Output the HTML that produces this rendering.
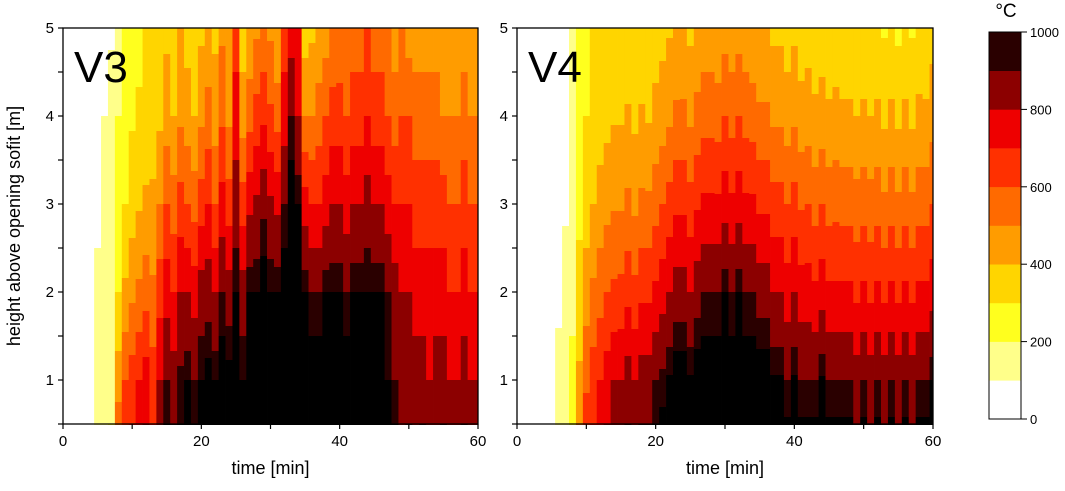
<!DOCTYPE html>
<html><head><meta charset="utf-8">
<style>
body{margin:0;background:#fff;}
svg{display:block;font-family:"Liberation Sans",Arial,sans-serif;}
</style></head>
<body>
<svg id="chart" width="1065" height="491" viewBox="0 0 1065 491"></svg>
<script>
const heights = [0.5, 1, 2, 3, 4, 5];
const xTicks = [0, 20, 40, 60];
const yTicks = [1, 2, 3, 4, 5];
const cbTicks = [0, 200, 400, 600, 800, 1000];
const levels = [0,100,200,300,400,500,600,700,800,900,950];
const levelColors = ['#ffffff','#ffff8a','#ffff1e','#ffd500','#ff9c00','#ff6a00','#ff3000','#ee0000','#8c0000','#2a0000','#000000'];
const cbColors = ['#ffffff','#ffff8a','#ffff1e','#ffd500','#ff9c00','#ff6a00','#ff3000','#ee0000','#8c0000','#2a0000'];
const v3 = [
[20,20,20,20,20,20],[20,20,20,20,20,20],[20,20,20,20,20,20],[20,20,20,20,20,20],[20,20,20,20,20,20],
[150,150,120,80,50,30],[160,160,150,120,100,60],[200,180,170,150,130,90],[550,450,300,250,200,150],[650,600,420,300,260,230],
[700,650,480,350,290,260],[750,700,520,390,310,280],[800,750,560,420,330,300],[700,650,520,420,350,320],[850,800,660,500,380,340],
[950,900,760,600,450,380],[900,850,700,550,400,340],[950,920,800,640,480,400],[1000,950,800,600,450,360],[950,900,760,560,400,340],
[1000,950,850,650,480,380],[1000,980,860,700,540,420],[1000,950,800,600,450,380],[1000,1000,900,740,580,480],[1000,980,850,650,480,400],
[1000,1000,950,850,750,650],[1000,950,850,650,450,350],[1000,1000,950,780,560,420],[1000,1000,950,820,640,480],[1000,1000,1000,880,680,520],
[1000,1000,950,820,620,480],[1000,1000,950,780,560,400],[1000,1000,1000,900,750,650],[1000,1000,1000,1000,900,750],[1000,1000,1000,950,800,700],
[1000,1000,950,750,500,350],[1000,1000,900,700,500,380],[1000,1000,900,700,550,420],[1000,1000,950,750,600,450],[1000,1000,950,800,650,500],
[1000,1000,950,800,650,520],[1000,1000,900,750,600,500],[1000,1000,950,800,650,550],[1000,1000,950,800,650,550],[1000,1000,950,850,700,600],
[1000,1000,950,800,650,550],[1000,1000,950,800,650,550],[1000,950,900,750,600,500],[950,900,850,700,550,450],[850,850,800,700,600,500],
[900,850,800,700,600,450],[850,850,750,650,550,450],[900,850,750,650,550,450],[850,800,750,650,550,450],[850,850,750,650,550,450],
[900,850,750,650,500,420],[850,800,700,600,500,400],[850,800,700,600,500,420],[900,850,750,650,550,450],[850,800,700,600,500,420],
[850,800,700,600,500,400]];
const v4 = [
[20,20,20,20,20,20],[20,20,20,20,20,20],[20,20,20,20,20,20],[20,20,20,20,20,20],[20,20,20,20,20,20],[20,20,20,20,20,20],
[150,130,80,50,30,20],[180,170,130,90,60,40],[250,220,180,150,120,100],[500,420,330,280,250,220],
[650,580,450,350,300,270],[700,650,520,400,330,300],[750,700,560,440,350,310],[800,750,600,470,370,320],[850,800,620,490,390,330],
[850,800,630,490,390,320],[900,850,670,520,410,340],[850,800,630,480,380,320],[900,850,680,520,410,340],[900,850,680,520,390,320],
[950,900,720,560,430,350],[970,920,760,600,450,370],[1000,960,800,640,480,390],[1000,1000,850,680,520,410],[1000,1000,850,680,520,420],
[1000,960,800,640,480,380],[1000,1000,860,690,530,420],[1000,1000,900,720,560,440],[1000,1000,900,720,560,440],[1000,1000,900,720,550,420],
[1000,1000,950,760,600,460],[1000,1000,900,720,560,440],[1000,1000,950,760,600,460],[1000,1000,900,720,560,440],[1000,1000,900,720,550,420],
[1000,1000,860,680,520,400],[1000,1000,860,680,520,400],[1000,960,800,640,480,380],[1000,960,800,640,480,380],[960,900,750,600,450,350],
[1000,960,800,640,480,380],[960,900,750,590,440,340],[960,900,750,600,450,360],[960,900,720,560,420,340],[1000,960,760,600,440,350],
[960,900,720,560,420,320],[960,900,720,570,430,340],[960,900,720,560,420,320],[960,900,720,560,420,320],[900,850,680,540,400,300],
[960,900,720,560,420,320],[900,850,680,540,400,300],[960,900,720,560,420,320],[900,850,680,520,380,290],[960,900,720,560,420,320],
[900,850,680,520,380,280],[960,900,720,560,420,320],[900,850,680,520,380,290],[960,900,720,560,420,340],[960,900,720,560,420,320],
[1000,950,760,600,460,360]];

const NS='http://www.w3.org/2000/svg';
const svg=document.getElementById('chart');
function mk(tag,attrs,parent){const e=document.createElementNS(NS,tag);for(const k in attrs)e.setAttribute(k,attrs[k]);(parent||svg).appendChild(e);return e;}
function colorFor(v){let i=0;for(let k=0;k<levels.length;k++){if(v>=levels[k])i=k;}return levelColors[i];}
function interpH(col,h){for(let k=0;k<heights.length-1;k++){if(h<=heights[k+1]){const f=(h-heights[k])/(heights[k+1]-heights[k]);return col[k]+f*(col[k+1]-col[k]);}}return col[col.length-1];}

const Y0=424,Y1=28;
function yScale(h){return Y0-(h-0.5)/(4.5)*(Y0-Y1);}

function drawPanel(x0,x1,data,label){
  const g=mk('g',{});
  
  
  const xs=t=>x0+t/60*(x1-x0);
  const hm=mk('g',{},g);
  
  
  data.forEach((col,t)=>{
    const a=Math.max(x0,xs(t-0.5)),b=Math.min(x1,xs(t+0.5));
    let runStart=Y0,runColor=null;
    for(let y=Y0;y>=Y1-1;y-=1){
      const h=y<=Y1?5:0.5+(Y0-y)/(Y0-Y1)*4.5;
      const c=y<Y1?null:colorFor(interpH(col,h));
      if(c!==runColor){
        if(runColor){const r=mk('rect',{x:a,y:y+1,width:b-a+0.4,height:runStart-(y+1),fill:runColor},hm);
          
          }
        runColor=c;runStart=y+1;
      }
    }
  });
  mk('rect',{x:x0,y:Y1,width:x1-x0,height:Y0-Y1,fill:'none',stroke:'#000','stroke-width':1.3},g);
  [0,10,20,30,40,50,60].forEach(t=>{mk('line',{x1:xs(t),x2:xs(t),y1:Y0,y2:Y0+5,stroke:'#000','stroke-width':1.2},g);});
  xTicks.forEach(t=>{const tx=mk('text',{x:xs(t),y:Y0+22,'text-anchor':'middle','font-size':15},g);tx.textContent=t;
    });
  for(let h=0.5;h<=5;h+=0.5){mk('line',{x1:x0-5,x2:x0,y1:yScale(h),y2:yScale(h),stroke:'#000','stroke-width':1.2},g);}
  yTicks.forEach(h=>{const tx=mk('text',{x:x0-9,y:yScale(h)+5,'text-anchor':'end','font-size':15},g);tx.textContent=h;
    });
  const xt=mk('text',{x:(x0+x1)/2,y:474,'text-anchor':'middle','font-size':18},g);xt.textContent='time [min]';
  
  const pl=mk('text',{x:x0+11,y:82,'font-size':44},g);pl.textContent=label;
  
}
drawPanel(63,478,v3,'V3');
drawPanel(517,933,v4,'V4');
const yt=mk('text',{x:0,y:0,'text-anchor':'middle','font-size':18,transform:'translate(20,226) rotate(-90)'});
yt.textContent='height above opening sofit [m]';


const CB={x:989,w:32,top:32,bot:419};
const cbs=v=>CB.bot-v/1000*(CB.bot-CB.top);
const cb=mk('g',{});

cbColors.forEach((c,i)=>{const r=mk('rect',{x:CB.x,y:cbs((i+1)*100),width:CB.w,height:cbs(i*100)-cbs((i+1)*100)+0.3,fill:c},cb);
  });
mk('rect',{x:CB.x,y:CB.top,width:CB.w,height:CB.bot-CB.top,fill:'none',stroke:'#000','stroke-width':1},cb);
cbTicks.forEach(v=>{mk('line',{x1:CB.x+CB.w,x2:CB.x+CB.w+6,y1:cbs(v),y2:cbs(v),stroke:'#000','stroke-width':1},cb);
  const tx=mk('text',{x:CB.x+CB.w+9,y:cbs(v)+5,'font-size':13},cb);tx.textContent=v;
  });
const unit=mk('text',{x:1006,y:17,'text-anchor':'middle','font-size':19},cb);unit.textContent='°C';

</script>
</body></html>
